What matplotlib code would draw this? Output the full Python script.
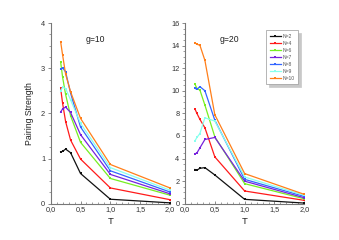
import matplotlib
matplotlib.use('Agg')
import matplotlib.pyplot as plt
from matplotlib.ticker import MultipleLocator, FuncFormatter

plt.rcParams['font.family'] = ['Liberation Sans', 'DejaVu Sans']

T = [1/6, 1/5, 1/4, 1/3, 1/2, 1.0, 2.0]
labels = ["N=2", "N=4", "N=6", "N=7", "N=8", "N=9", "N=10"]
colors = ["#111111", "#ff1a1a", "#77ee22", "#7722dd", "#3366ff", "#88ffee", "#ff7f1a"]

g10 = [
    [1.15, 1.16, 1.21, 1.13, 0.67, 0.10, 0.02],
    [2.56, 2.22, 1.82, 1.41, 0.99, 0.35, 0.09],
    [3.14, 2.80, 2.42, 1.95, 1.36, 0.56, 0.19],
    [2.03, 2.10, 2.14, 2.02, 1.53, 0.65, 0.22],
    [2.98, 3.01, 2.92, 2.45, 1.70, 0.73, 0.26],
    [2.50, 2.58, 2.55, 2.30, 1.78, 0.80, 0.30],
    [3.59, 3.29, 2.87, 2.48, 1.89, 0.87, 0.35],
]
g20 = [
    [3.03, 2.98, 3.14, 3.20, 2.55, 0.39, 0.06],
    [8.39, 8.00, 7.47, 6.73, 4.15, 1.13, 0.30],
    [10.60, 10.20, 10.07, 8.74, 5.93, 1.78, 0.44],
    [4.42, 4.50, 4.95, 5.69, 5.87, 2.00, 0.53],
    [10.22, 10.13, 10.37, 10.01, 7.40, 2.16, 0.65],
    [5.57, 5.87, 6.22, 7.61, 7.32, 2.37, 0.74],
    [14.25, 14.12, 14.03, 12.70, 7.88, 2.67, 0.83],
]

fig = plt.figure(figsize=(3.39, 2.40), dpi=100)
fig.patch.set_facecolor('white')
ax1 = fig.add_axes([0.1495, 0.151, 0.352, 0.753])
ax2 = fig.add_axes([0.5457, 0.151, 0.352, 0.753])

comma = FuncFormatter(lambda v, p: f"{v:.1f}".replace('.', ','))

for ax, data, ymax, ystep, title in [(ax1, g10, 4, 1, "g=10"), (ax2, g20, 16, 2, "g=20")]:
    for vals, lab, c in zip(data, labels, colors):
        ax.plot(T, vals, color=c, lw=0.9, marker='s', ms=1.8, mew=0, label=lab)
    ax.set_xlim(0, 2)
    ax.set_ylim(0, ymax)
    ax.xaxis.set_major_locator(MultipleLocator(0.5))
    ax.xaxis.set_minor_locator(MultipleLocator(0.1))
    ax.yaxis.set_major_locator(MultipleLocator(ystep))
    ax.yaxis.set_minor_locator(MultipleLocator(ystep / 4))
    ax.xaxis.set_major_formatter(comma)
    ax.spines['top'].set_visible(False)
    ax.spines['right'].set_visible(False)
    for s in ('left', 'bottom'):
        ax.spines[s].set_color('#777777')
        ax.spines[s].set_linewidth(0.8)
    ax.tick_params(axis='both', which='major', labelsize=5.3, colors='#777777',
                   labelcolor='#333333', length=2.5, width=0.6, pad=1.5)
    ax.tick_params(axis='both', which='minor', colors='#777777', length=1.5, width=0.5)
    ax.tick_params(axis='x', which='both', direction='in')
    ax.set_xlabel("T", fontsize=6.8, color='#222222', labelpad=3)
    ax.text(0.29, 0.91, title, transform=ax.transAxes, fontsize=6.2, color='#222222',
            ha='left', va='center')

ax1.set_ylabel("Pairing Strength", fontsize=6.3, color='#222222', labelpad=5)

leg = ax2.legend(loc='upper left', bbox_to_anchor=(0.66, 0.975), fontsize=3.6,
                 frameon=True, fancybox=False,
                 shadow={'color': '#c8c8c8', 'alpha': 1.0},
                 handlelength=2.2, handletextpad=0.3, labelspacing=0.4,
                 borderpad=0.7, labelcolor='#555555')
leg.get_frame().set_edgecolor('#999999')
leg.get_frame().set_linewidth(0.5)

plt.savefig('out.png', dpi=100, facecolor='white')
plt.close()
